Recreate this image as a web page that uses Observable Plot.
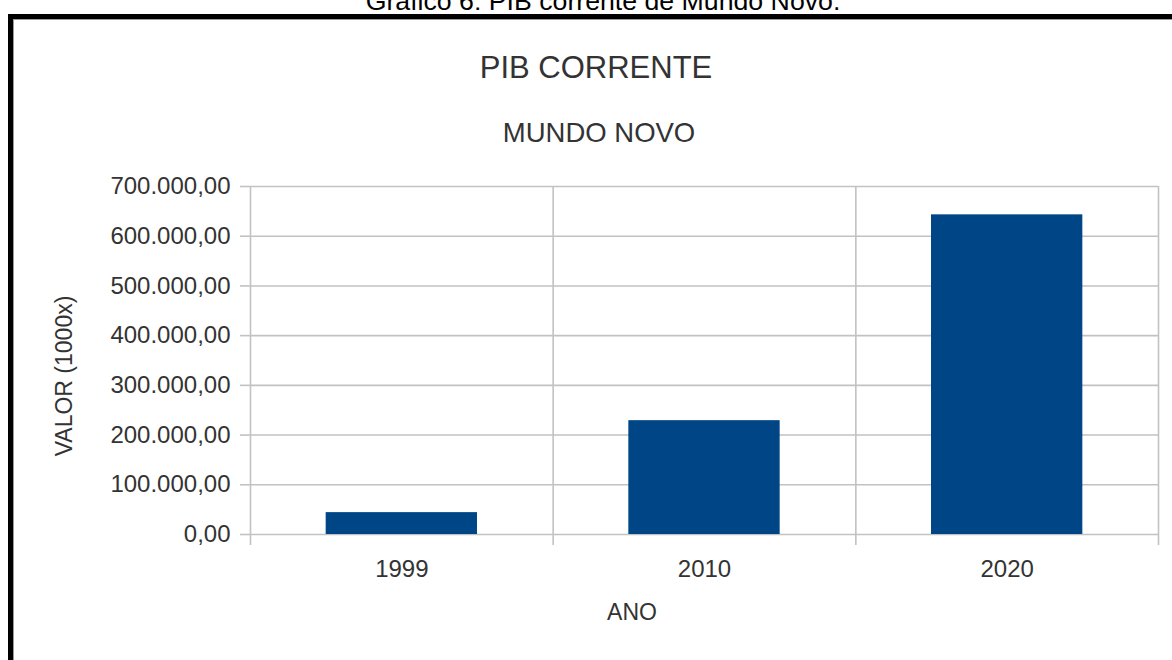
<!DOCTYPE html>
<html>
<head>
<meta charset="utf-8">
<script src="https://cdn.jsdelivr.net/npm/d3@7"></script>
<script src="https://cdn.jsdelivr.net/npm/@observablehq/plot@0.6"></script>
<style>
  html, body { margin: 0; padding: 0; background: #fff; }
  #wrap { position: relative; width: 1172px; height: 660px; overflow: hidden; background: #fff; }
  #wrap > svg { position: absolute; left: 0; top: 0; }
</style>
</head>
<body>
<div id="wrap"></div>
<script>
// ---- data ----
const caption = "Gráfico 6: PIB corrente de Mundo Novo.";
const title = "PIB CORRENTE";
const subtitle = "MUNDO NOVO";
const xLabel = "ANO";
const yLabel = "VALOR (1000x)";
const years = ["1999", "2010", "2020"];
const values = [44000, 229000, 643000];
const yTicks = [0, 100000, 200000, 300000, 400000, 500000, 600000, 700000];

const data = years.map((year, i) => ({year, i, value: values[i]}));
const br = d3.formatLocale({decimal: ",", thousands: ".", grouping: [3], currency: ["R$", ""]});
const fmt = br.format(",.2f");

const font = "'Liberation Sans', Arial, sans-serif";
const gridColor = "#c2c2c2";
const boundaries = d3.range(years.length + 1);
const centers = years.map((_, i) => i + 0.5);

const chart = Plot.plot({
  width: 1172,
  height: 660,
  marginLeft: 250,
  marginRight: 14,
  marginTop: 186,
  marginBottom: 126,
  style: {background: "transparent", fontFamily: font, fontSize: "24px", color: "#333"},
  x: {type: "linear", domain: [0, years.length]},
  y: {domain: [0, 700000]},
  marks: [
    Plot.gridX(boundaries, {stroke: gridColor, strokeOpacity: 1, strokeWidth: 1.6}),
    Plot.gridY(yTicks, {stroke: gridColor, strokeOpacity: 1, strokeWidth: 1.6}),
    Plot.axisY(yTicks, {tickSize: 10, tickPadding: 10, stroke: gridColor, strokeWidth: 1.6, tickFormat: fmt, fontSize: 24, fill: "#333", label: null}),
    Plot.axisX(boundaries, {tickSize: 11, stroke: gridColor, strokeWidth: 1.6, tickFormat: () => "", label: null}),
    Plot.axisX(centers, {tickSize: 0, tickPadding: 25, tickFormat: v => years[Math.floor(v)], fontSize: 24, fill: "#333", label: null}),
    Plot.rectY(data, {x1: d => d.i + 0.25, x2: d => d.i + 0.75, y1: 0, y2: "value", fill: "#004586"})
  ]
});
document.getElementById("wrap").appendChild(chart);

// ---- overlay: frame, caption, titles, axis titles ----
const svg = d3.select("#wrap").append("svg")
  .attr("width", 1172).attr("height", 660)
  .style("pointer-events", "none");

// frame (thick black with thin gray inner line)
svg.append("rect").attr("x", 8).attr("y", 14).attr("width", 1300).attr("height", 800).attr("fill", "#000");
svg.append("rect").attr("x", 13).attr("y", 19).attr("width", 1300).attr("height", 800).attr("fill", "#9a9a9a");
svg.append("rect").attr("x", 14).attr("y", 20).attr("width", 1300).attr("height", 800).attr("fill", "none");
// move chart visually above the frame background: put plot into overlay order
const fg = svg.append("g");
fg.node().appendChild(document.createElementNS("http://www.w3.org/2000/svg", "rect"));
d3.select(fg.node().firstChild).attr("x", 14).attr("y", 20).attr("width", 1300).attr("height", 800).attr("fill", "#fff");
// place chart inside overlay so it draws over the white panel
const wrapperG = svg.append("g");
wrapperG.node().appendChild(chart);

const txt = (s, x, y, size, opts = {}) => {
  const t = svg.append("text").text(s)
    .attr("x", x).attr("y", y)
    .attr("text-anchor", "middle")
    .attr("font-family", font)
    .attr("font-size", size)
    .attr("fill", opts.fill || "#333");
  if (opts.rotate) t.attr("transform", `rotate(-90 ${x} ${y})`);
  return t;
};
txt(caption, 603, 10, 26.7, {fill: "#000"});
txt(title, 596, 78, 31, {fill: "#333"});
txt(subtitle, 599, 142, 27.5, {fill: "#333"});
txt(xLabel, 632, 620, 23, {fill: "#333"});
txt(yLabel, 72, 376, 23, {fill: "#333", rotate: true});
</script>
</body>
</html>
